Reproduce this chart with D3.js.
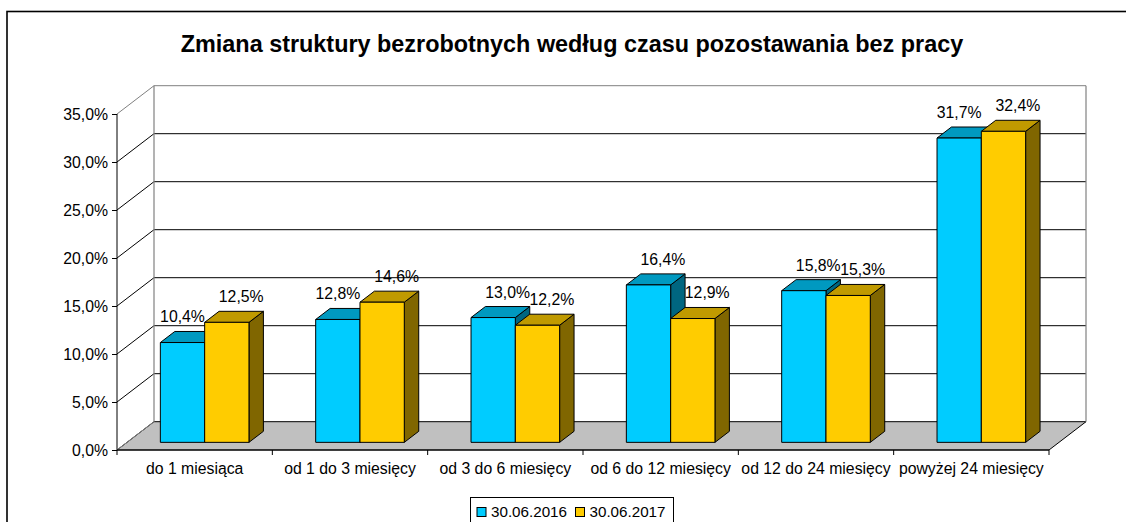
<!DOCTYPE html>
<html><head><meta charset="utf-8">
<script src="https://cdn.jsdelivr.net/npm/d3@7/dist/d3.min.js"></script>
<style>
html,body{margin:0;padding:0;background:#fff;}
svg{display:block;font-family:"Liberation Sans",Arial,sans-serif;}
</style></head>
<body>
<svg id="chart" width="1126" height="522"></svg>
<script>
const title = "Zmiana struktury bezrobotnych według czasu pozostawania bez pracy";
const categories = ["do 1 miesiąca","od 1 do 3 miesięcy","od 3 do 6 miesięcy","od 6 do 12 miesięcy","od 12 do 24 miesięcy","powyżej 24 miesięcy"];
const seriesNames = ["30.06.2016","30.06.2017"];
const values2016 = [10.4,12.8,13.0,16.4,15.8,31.7];
const values2017 = [12.5,14.6,12.2,12.9,15.3,32.4];
const yTicks = [0,5,10,15,20,25,30,35];

const colors = {
  "30.06.2016": {front:"#00CCFF", top:"#0099C0", side:"#006680"},
  "30.06.2017": {front:"#FFCC00", top:"#C09A00", side:"#806600"}
};

const svg = d3.select("#chart");
const locale = d3.formatLocale({decimal:",", thousands:" ", grouping:[3], currency:["","zł"]});
const fmt1 = locale.format(".1f");
const pct = v => fmt1(v) + "%";

// geometry
const X0 = 117, X1 = 1049, YB = 450, YT = 114, DX = 37, DY = 28.3;
const d0 = 0.27, d1 = 0.66;
const y = d3.scaleLinear().domain([0,35]).range([YB,YT]);
const x = d3.scaleBand().domain(categories).range([X0,X1]);
const xs = d3.scaleBand().domain(seriesNames).range([0,x.bandwidth()]).paddingInner(0).paddingOuter(0.753);
const P = (px,v,d) => [px + d*DX, y(v) - d*DY];

// outer frame
svg.append("rect").attr("x",7).attr("y",11.5).attr("width",1140).attr("height",530)
  .attr("fill","none").attr("stroke","#000").attr("stroke-width",1.6);

// title
svg.append("text").attr("x",572).attr("y",51.5).attr("text-anchor","middle")
  .attr("font-size",23.4).attr("font-weight","bold").text(title);

const grey = "#808080";
// walls
svg.append("polygon").attr("points",[P(X0,0,1),P(X1,0,1),P(X1,35,1),P(X0,35,1)].map(p=>p.join(",")).join(" "))
  .attr("fill","#fff").attr("stroke","none");
svg.append("polygon").attr("points",[P(X0,0,0),P(X0,0,1),P(X0,35,1),P(X0,35,0)].map(p=>p.join(",")).join(" "))
  .attr("fill","#fff").attr("stroke","none");
// floor
svg.append("polygon").attr("points",[P(X0,0,0),P(X1,0,0),P(X1,0,1),P(X0,0,1)].map(p=>p.join(",")).join(" "))
  .attr("fill","#C0C0C0").attr("stroke","#000").attr("stroke-width",1);

// gridlines on back wall and left wall
yTicks.forEach(v => {
  const c = (v===35 || v===0) ? grey : "#000";
  if (v>0) {
    const a = P(X0,v,1), b = P(X1,v,1);
    svg.append("line").attr("x1",a[0]).attr("y1",a[1]).attr("x2",b[0]).attr("y2",b[1])
      .attr("stroke", v===35?grey:"#000").attr("stroke-width",1);
  }
  const f = P(X0,v,0), g = P(X0,v,1);
  svg.append("line").attr("x1",f[0]).attr("y1",f[1]).attr("x2",g[0]).attr("y2",g[1])
    .attr("stroke",c).attr("stroke-width",1);
});
// back wall vertical edges
[X0,X1].forEach(px => {
  const a = P(px,0,1), b = P(px,35,1);
  svg.append("line").attr("x1",a[0]).attr("y1",a[1]).attr("x2",b[0]).attr("y2",b[1])
    .attr("stroke",grey).attr("stroke-width",1.2);
});

// bars
const data = categories.map((c,i)=>({cat:c, vals:[values2016[i], values2017[i]]}));
const barG = svg.append("g");
data.forEach(d => {
  seriesNames.forEach((s,j) => {
    const v = d.vals[j];
    const xl = x(d.cat) + xs(s), xr = xl + xs.bandwidth();
    const col = colors[s];
    const g = barG.append("g").attr("stroke","#000").attr("stroke-width",1).attr("stroke-linejoin","round");
    const poly = pts => pts.map(p=>p.join(",")).join(" ");
    g.append("polygon").attr("points",poly([P(xr,0,d0),P(xr,v,d0),P(xr,v,d1),P(xr,0,d1)])).attr("fill",col.side);
    g.append("polygon").attr("points",poly([P(xl,v,d0),P(xr,v,d0),P(xr,v,d1),P(xl,v,d1)])).attr("fill",col.top);
    g.append("polygon").attr("points",poly([P(xl,0,d0),P(xr,0,d0),P(xr,v,d0),P(xl,v,d0)])).attr("fill",col.front);
  });
});

// data labels
data.forEach(d => {
  seriesNames.forEach((s,j) => {
    const v = d.vals[j];
    const xl = x(d.cat) + xs(s), xc = xl + xs.bandwidth()/2;
    const other = d.vals[1-j];
    const shift = (j===1 || v>other) ? (d1-d0)*DX : 0;
    const top = P(xc,v,d1);
    svg.append("text").attr("x", xc + d0*DX + shift).attr("y", top[1]-9)
      .attr("text-anchor","middle").attr("font-size",15.8).text(pct(v));
  });
});

// y axis (front)
const yAxis = d3.axisLeft(y).tickValues(yTicks).tickSize(5).tickPadding(4).tickFormat(pct);
const ya = svg.append("g").attr("transform",`translate(${X0},0)`).call(yAxis);
ya.select(".domain").attr("d",`M0,${YT}V${YB}`).attr("stroke","#000");
ya.selectAll(".tick line").attr("stroke","#000");
ya.selectAll(".tick text").attr("font-size",15.8).attr("font-family","Liberation Sans, Arial, sans-serif")
  .attr("fill","#000").attr("dy","0.37em");

// x axis line + boundary ticks
const xa = svg.append("g");
xa.append("line").attr("x1",X0).attr("x2",X1).attr("y1",YB).attr("y2",YB).attr("stroke","#000");
const bounds = categories.map(c=>x(c)).concat([X1]);
bounds.forEach(bx => {
  xa.append("line").attr("x1",bx).attr("x2",bx).attr("y1",YB).attr("y2",YB+5).attr("stroke","#000");
});
categories.forEach(c => {
  xa.append("text").attr("x", x(c)+x.bandwidth()/2).attr("y",473.5).attr("text-anchor","middle")
    .attr("font-size",15.8).text(c);
});

// legend
const lg = svg.append("g");
lg.append("rect").attr("x",470.5).attr("y",497.5).attr("width",203).attr("height",40)
  .attr("fill","#fff").attr("stroke","#000");
const lx = [477, 575.5];
seriesNames.forEach((s,j) => {
  lg.append("rect").attr("x",lx[j]).attr("y",507.5).attr("width",9).attr("height",9)
    .attr("fill",colors[s].front).attr("stroke","#000");
  lg.append("text").attr("x",lx[j]+14).attr("y",516.5).attr("font-size",15.2).text(s);
});
</script>
</body></html>
